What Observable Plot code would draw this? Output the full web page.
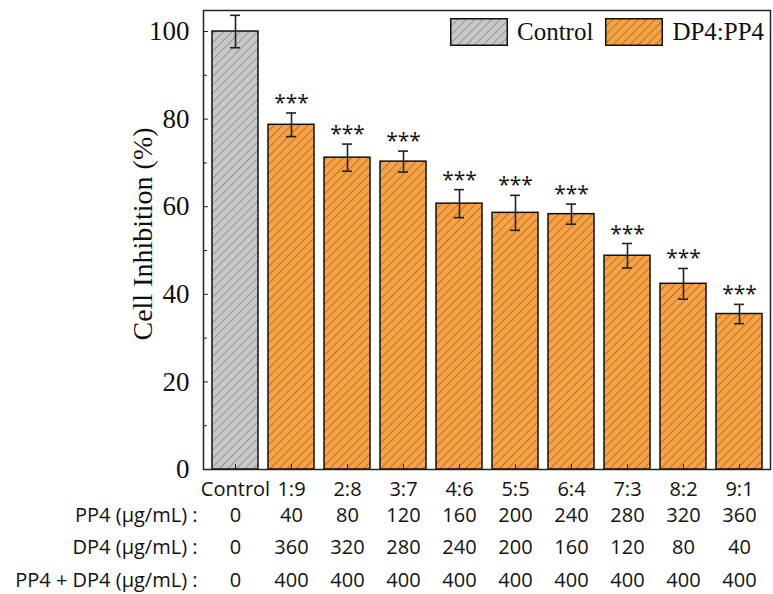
<!DOCTYPE html>
<html>
<head>
<meta charset="utf-8">
<script src="https://cdn.jsdelivr.net/npm/d3@7"></script>
<script src="https://cdn.jsdelivr.net/npm/@observablehq/plot@0.6"></script>
<style>
  html, body { margin: 0; padding: 0; background: #fff; }
  #wrap { position: relative; width: 773px; height: 594px; }
  #legend { position: absolute; left: 450px; top: 18px; display: flex; align-items: center;
            font-family: "Liberation Serif", "Times New Roman", serif; font-size: 25px; color: #111; }
  #legend .item { display: flex; align-items: center; margin-right: 12px; }
  #legend svg { display: block; margin-right: 9px; }
</style>
</head>
<body>
<div id="wrap"><div id="legend"></div></div>
<script>
// ---- data ----
const categories = ["Control", "1:9", "2:8", "3:7", "4:6", "5:5", "6:4", "7:3", "8:2", "9:1"];
const groups = ["Control", "DP4:PP4", "DP4:PP4", "DP4:PP4", "DP4:PP4", "DP4:PP4", "DP4:PP4", "DP4:PP4", "DP4:PP4", "DP4:PP4"];
const means = [100, 78.7, 71.2, 70.3, 60.7, 58.6, 58.3, 48.8, 42.4, 35.5];
const errors = [3.7, 2.7, 3.1, 2.4, 3.2, 4.0, 2.3, 2.8, 3.5, 2.2];
const significance = ["", "***", "***", "***", "***", "***", "***", "***", "***", "***"];
const pp4Values = ["0", "40", "80", "120", "160", "200", "240", "280", "320", "360"];
const dp4Values = ["0", "360", "320", "280", "240", "200", "160", "120", "80", "40"];
const totalValues = ["0", "400", "400", "400", "400", "400", "400", "400", "400", "400"];
const rowLabels = ["PP4 (μg/mL) :", "DP4 (μg/mL) :", "PP4 + DP4 (μg/mL) :"];
const yMajorTicks = [0, 20, 40, 60, 80, 100];
const yMinorTicks = [10, 30, 50, 70, 90];
const legendGroups = ["Control", "DP4:PP4"];
const yLabel = "Cell Inhibition (%)";

const data = categories.map((c, i) => ({cat: c, group: groups[i], mean: means[i], err: errors[i], sig: significance[i]}));

const serif = "'Liberation Serif', 'Times New Roman', serif";
const sans = "'Open Sans', 'Noto Sans', sans-serif";
const patternIds = {"Control": "hatch-gray", "DP4:PP4": "hatch-orange"};
const patternFill = {"Control": "#c8c8c8", "DP4:PP4": "#f7a244"};
const patternLine = {"Control": "#6a6a6a", "DP4:PP4": "#8a4a10"};

const rowDy = [46, 78, 111];
const rowData = [pp4Values, dp4Values, totalValues];

const marks = [
  Plot.barY(data, {x: "cat", y: "mean", fill: "group", stroke: "#111", strokeWidth: 1.5}),
  Plot.ruleX(data, {x: "cat", y1: d => d.mean - d.err, y2: d => d.mean + d.err, stroke: "#222", strokeWidth: 1.6}),
  Plot.tickY(data, {x: "cat", y: d => d.mean - d.err, stroke: "#222", strokeWidth: 1.6, inset: 18}),
  Plot.tickY(data, {x: "cat", y: d => d.mean + d.err, stroke: "#222", strokeWidth: 1.6, inset: 18}),
  Plot.text(data, {x: "cat", y: d => d.mean + d.err, text: "sig", lineAnchor: "bottom", dy: -3, fontSize: 21, fontFamily: sans, fill: "#111"}),
  Plot.axisY({ticks: yMajorTicks, tickSize: -5, tickPadding: 19, fontSize: 27, fontFamily: serif, label: null, stroke: "#222", color: "#111"}),
  Plot.axisY({ticks: yMinorTicks, tickSize: -4, tickFormat: () => "", label: null, stroke: "#222"}),
  Plot.axisX({tickSize: -5, tickFormat: () => "", label: null, stroke: "#222"}),
  Plot.frame({stroke: "#222", strokeWidth: 1.5}),
  Plot.text(categories, {x: d => d, frameAnchor: "bottom", lineAnchor: "middle", dy: 20, fontSize: 20, fontFamily: sans, fill: "#111"}),
  Plot.text([yLabel], {frameAnchor: "left", textAnchor: "middle", dx: -60, dy: -6, rotate: -90, fontSize: 28, fontFamily: serif, fill: "#111"})
];
rowData.forEach((vals, r) => {
  marks.push(Plot.text(vals, {x: (d, i) => categories[i], text: d => d, frameAnchor: "bottom", lineAnchor: "middle", dy: rowDy[r], fontSize: 20, fontFamily: sans, fill: "#111"}));
  marks.push(Plot.text([rowLabels[r]], {frameAnchor: "bottom-left", textAnchor: "end", lineAnchor: "middle", dx: -6, dy: rowDy[r], fontSize: 20, fontFamily: sans, fill: "#111"}));
});

const svg = Plot.plot({
  width: 773,
  height: 594,
  marginLeft: 203,
  marginRight: 3,
  marginTop: 10,
  marginBottom: 125,
  style: {background: "#fff", overflow: "visible"},
  x: {domain: categories, paddingInner: 0.18, paddingOuter: 0.1, axis: null},
  y: {domain: [0, 104.8], axis: null},
  color: {type: "ordinal", domain: legendGroups, range: legendGroups.map(g => `url(#${patternIds[g]})`)},
  marks
});

// hatch patterns
const defs = d3.select(svg).insert("defs", ":first-child");
legendGroups.forEach(g => {
  const p = defs.append("pattern").attr("id", patternIds[g]).attr("patternUnits", "userSpaceOnUse")
    .attr("width", 6).attr("height", 6).attr("patternTransform", "rotate(45)");
  p.append("rect").attr("width", 6).attr("height", 6).attr("fill", patternFill[g]);
  p.append("line").attr("x1", 0).attr("y1", 0).attr("x2", 0).attr("y2", 6)
    .attr("stroke", patternLine[g]).attr("stroke-width", 1.1);
});

const wrap = document.getElementById("wrap");
wrap.insertBefore(svg, wrap.firstChild);

// legend
const legend = d3.select("#legend");
legendGroups.forEach(g => {
  const item = legend.append("div").attr("class", "item");
  const s = item.append("svg").attr("width", 58).attr("height", 28);
  s.append("rect").attr("x", 0.75).attr("y", 0.75).attr("width", 56.5).attr("height", 26.5)
    .attr("fill", `url(#${patternIds[g]})`).attr("stroke", "#111").attr("stroke-width", 1.5);
  item.append("span").text(g);
});
</script>
</body>
</html>
